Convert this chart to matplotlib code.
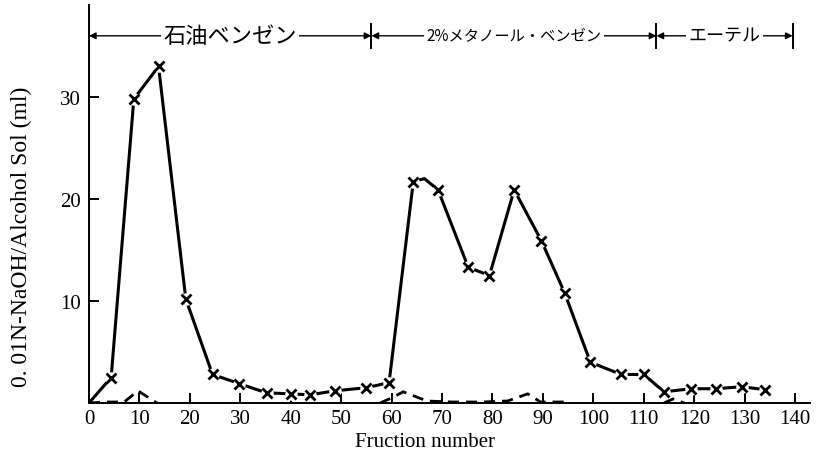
import numpy as np
import matplotlib
matplotlib.use("Agg")
import matplotlib.pyplot as plt

# ---- data ----
solid_x = [0, 4.4, 8.9, 13.8, 19.2, 24.5, 29.8, 35.2, 40, 43.8, 48.8, 55, 59.5,
           64.3, 66.5, 69.2, 75.2, 79.4, 84.3, 89.7, 94.3, 99.4, 105.5, 110,
           114, 119.4, 124.4, 129.4, 134.1]
solid_y = [0, 2.5, 29.8, 33.0, 10.2, 2.8, 1.9, 1.0, 0.9, 0.8, 1.2, 1.5, 2.0,
           21.7, 22.0, 20.9, 13.3, 12.5, 20.9, 15.9, 10.8, 4.0, 2.8, 2.8,
           1.1, 1.4, 1.4, 1.6, 1.3]
unmarked = [0, 14]

dash1_x = [0, 3, 7, 9.7, 13.5]
dash1_y = [0, 0.1, 0.1, 1.2, 0]
dash2_x = [57.7, 60, 62.3, 67, 72, 78, 83, 87, 89.5, 95]
dash2_y = [0, 0.5, 1.1, 0.2, 0.1, 0.1, 0.2, 0.9, 0.1, 0.1]
dash3_x = [114, 115.8, 118]
dash3_y = [0, 0.4, 0]

xticks = [0, 10, 20, 30, 40, 50, 60, 70, 80, 90, 100, 110, 120, 130, 140]
yticks = [10, 20, 30]

sections = [("石油ベンゼン", 0, 56), ("2%メタノール・ベンゼン", 56, 112.5), ("エーテル", 112.5, 139.5)]
section_sizes = [16, 11, 13]

# ---- figure ----
fig = plt.figure(figsize=(8.16, 4.77), dpi=100)
ax = fig.add_axes([0.109, 0.153, 0.884, 0.834])

serif = "Liberation Serif"
jp = ["Noto Sans CJK JP", "DejaVu Sans"]

ax.plot(solid_x, solid_y, color="black", lw=2.2, solid_capstyle="butt", zorder=2)
marked = [i for i in range(len(solid_x)) if i not in unmarked]
ax.plot([solid_x[i] for i in marked], [solid_y[i] for i in marked], ls="none",
        marker="o", ms=9, mfc="white", mec="none", zorder=3)
ax.plot([solid_x[i] for i in marked], [solid_y[i] for i in marked], ls="none",
        marker="x", ms=7, mew=2.0, color="black", zorder=4)

for dx, dy in [(dash1_x, dash1_y), (dash2_x, dash2_y), (dash3_x, dash3_y)]:
    ax.plot(dx, dy, color="black", lw=2.0, dashes=(4, 2.5), zorder=2)

ax.set_xlim(0, 143)
ax.set_ylim(0, 39)
ax.spines["top"].set_visible(False)
ax.spines["right"].set_visible(False)
ax.spines["left"].set_linewidth(1.4)
ax.spines["bottom"].set_linewidth(1.4)

ax.set_xticks(xticks)
ax.set_xticklabels([str(t) for t in xticks], fontfamily=serif, fontsize=15)
ax.set_yticks(yticks)
ax.set_yticklabels([str(t) for t in yticks], fontfamily=serif, fontsize=15)
ax.tick_params(axis="x", direction="in", length=7, width=1.4, pad=4)
ax.tick_params(axis="y", direction="in", length=7, width=1.4, pad=6)

ax.set_xlabel("Fruction number", fontfamily=serif, fontsize=15)
ax.xaxis.set_label_coords(0.466, -0.072)
ax.set_ylabel("0. 01N-NaOH/Alcohol Sol (ml)", fontfamily=serif, fontsize=17)
ax.yaxis.set_label_coords(-0.093, 0.42)
ax.yaxis.label.set_va("center")

# top section annotations
ya = 36.0
for (label, x0, x1), fs in zip(sections, section_sizes):
    ax.annotate("", xy=(x0, ya), xytext=(x1, ya),
                arrowprops=dict(arrowstyle="<|-|>", color="black", lw=1.0,
                                mutation_scale=10, shrinkA=0, shrinkB=0),
                annotation_clip=False)
    ax.text((x0 + x1) / 2, ya, label, ha="center", va="center", fontsize=fs,
            family=jp, bbox=dict(facecolor="white", edgecolor="none", pad=1.5),
            zorder=5)
for xb in [56, 112.5, 139.5]:
    ax.plot([xb, xb], [ya - 1.2, ya + 1.2], color="black", lw=1.4, clip_on=False)

fig.savefig("out.png", dpi=100)
